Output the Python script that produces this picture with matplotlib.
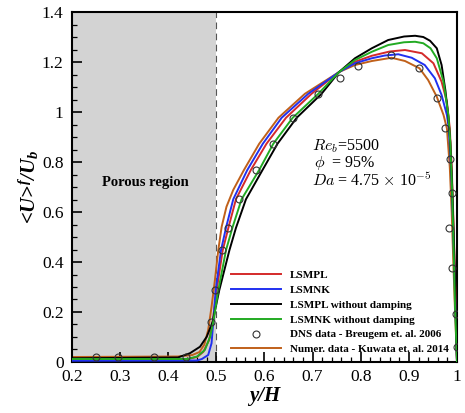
import matplotlib
matplotlib.use("Agg")
import matplotlib.pyplot as plt
from matplotlib.ticker import MultipleLocator, FormatStrFormatter

# values
x_lsmpl = [0.2, 0.44, 0.46, 0.473, 0.485, 0.4923, 0.5006, 0.5132, 0.525, 0.5407, 0.5713, 0.6041,
           0.6447, 0.6978, 0.755, 0.788, 0.823, 0.86, 0.892, 0.927, 0.951, 0.968, 0.979, 0.985, 0.989,
           0.992, 0.995, 0.998, 1.0]
y_lsmpl = [0.012, 0.012, 0.02, 0.041, 0.088, 0.161, 0.287, 0.447, 0.537, 0.651, 0.767, 0.873,
           0.977, 1.073, 1.16, 1.201, 1.225, 1.242, 1.248, 1.235, 1.195, 1.121, 1.041, 0.935, 0.78,
           0.6, 0.4, 0.18, 0.0]

x_lsmnk = [0.2, 0.46, 0.47, 0.483, 0.49, 0.4936, 0.4986, 0.5096, 0.52, 0.5351, 0.564, 0.5965,
           0.6357, 0.691, 0.755, 0.788, 0.823, 0.85, 0.878, 0.906, 0.933, 0.954, 0.968, 0.979, 0.983,
           0.988, 0.991, 0.994, 0.997, 1.0]
y_lsmnk = [0.005, 0.006, 0.012, 0.028, 0.075, 0.161, 0.287, 0.447, 0.537, 0.651, 0.767, 0.873,
           0.977, 1.073, 1.16, 1.195, 1.215, 1.226, 1.231, 1.217, 1.188, 1.135, 1.068, 0.988, 0.935,
           0.76, 0.6, 0.4, 0.2, 0.0]

x_nodamp_pl = [0.2, 0.42, 0.445, 0.466, 0.48, 0.4923, 0.506, 0.5271, 0.5408, 0.5615, 0.5956, 0.627,
               0.6669, 0.7186, 0.755, 0.788, 0.823, 0.857, 0.89, 0.913, 0.93, 0.944, 0.958, 0.968,
               0.976, 0.982, 0.986, 0.99, 0.994, 0.997, 1.0]
y_nodamp_pl = [0.015, 0.018, 0.035, 0.061, 0.101, 0.161, 0.287, 0.447, 0.537, 0.651, 0.767, 0.873,
               0.977, 1.073, 1.16, 1.215, 1.255, 1.288, 1.302, 1.305, 1.3, 1.285, 1.255, 1.188,
               1.085, 0.98, 0.88, 0.7, 0.45, 0.22, 0.0]

x_nodamp_nk = [0.2, 0.44, 0.46, 0.476, 0.487, 0.4936, 0.504, 0.52, 0.5333, 0.5524, 0.5886, 0.6183,
               0.6586, 0.7118, 0.755, 0.788, 0.823, 0.857, 0.89, 0.913, 0.93, 0.945, 0.958, 0.972,
               0.982, 0.986, 0.99, 0.993, 0.996, 1.0]
y_nodamp_nk = [0.012, 0.012, 0.022, 0.048, 0.101, 0.161, 0.287, 0.447, 0.537, 0.651, 0.767, 0.873,
               0.977, 1.073, 1.16, 1.208, 1.241, 1.268, 1.279, 1.281, 1.275, 1.255, 1.215, 1.121,
               0.988, 0.88, 0.68, 0.45, 0.22, 0.0]

x_kuwata = [0.2, 0.42, 0.45, 0.465, 0.475, 0.483, 0.49, 0.497, 0.504, 0.511, 0.521, 0.535, 0.557,
            0.589, 0.629, 0.684, 0.755, 0.788, 0.823, 0.864, 0.892, 0.922, 0.94, 0.958, 0.972,
            0.979, 0.985, 0.989, 0.992, 0.995, 0.998, 1.0]
y_kuwata = [0.02, 0.022, 0.028, 0.04, 0.07, 0.128, 0.221, 0.328, 0.448, 0.541, 0.621, 0.688, 0.767,
            0.873, 0.977, 1.073, 1.16, 1.188, 1.204, 1.217, 1.204, 1.175, 1.128, 1.061, 0.988,
            0.935, 0.78, 0.6, 0.42, 0.25, 0.1, 0.0]

x_dns = [0.25, 0.295, 0.371, 0.436, 0.489, 0.497, 0.511, 0.524, 0.548, 0.582, 0.618, 0.660, 0.711,
         0.756, 0.794, 0.863, 0.922, 0.958, 0.976, 0.985, 0.989, 0.983, 0.990, 0.997, 0.999]
y_dns = [0.02, 0.02, 0.02, 0.02, 0.161, 0.287, 0.447, 0.537, 0.651, 0.767, 0.873, 0.977, 1.073,
         1.137, 1.185, 1.228, 1.175, 1.057, 0.935, 0.811, 0.677, 0.535, 0.375, 0.19, 0.06]

plt.rcParams["font.family"] = ["Liberation Serif", "DejaVu Serif"]
plt.rcParams["mathtext.fontset"] = "custom"
plt.rcParams["mathtext.it"] = "Liberation Serif:italic:bold"
plt.rcParams["mathtext.rm"] = "Liberation Serif:bold"

fig = plt.figure(figsize=(4.65, 4.13), dpi=100)
ax = fig.add_axes([0.1548, 0.1235, 0.828, 0.8474])

ax.axvspan(0.2, 0.5, color="#d3d3d3", zorder=0, lw=0)
ax.axvline(0.5, color="#555555", ls=(0, (6, 4)), lw=0.8, zorder=1)

lw = 1.4
ax.plot(x_lsmpl, y_lsmpl, color="#d42a2a", lw=lw, label="LSMPL", zorder=3)
ax.plot(x_lsmnk, y_lsmnk, color="#2030f0", lw=lw, label="LSMNK", zorder=3)
ax.plot(x_nodamp_pl, y_nodamp_pl, color="black", lw=lw, label="LSMPL without damping", zorder=3)
ax.plot(x_nodamp_nk, y_nodamp_nk, color="#22aa22", lw=lw, label="LSMNK without damping", zorder=3)
ax.plot(x_dns, y_dns, ls="none", marker="o", mfc="none", mec="#333333", ms=5, mew=0.8,
        label="DNS data - Breugem et. al. 2006", zorder=4)
ax.plot(x_kuwata, y_kuwata, color="#c0601a", lw=lw, label="Numer. data - Kuwata et. al. 2014", zorder=2)

ax.set_xlim(0.2, 1.0)
ax.set_ylim(0, 1.4)
ax.xaxis.set_major_locator(MultipleLocator(0.1))
ax.xaxis.set_minor_locator(MultipleLocator(0.02))
ax.yaxis.set_major_locator(MultipleLocator(0.2))
ax.yaxis.set_minor_locator(MultipleLocator(0.05))
ax.xaxis.set_major_formatter(FormatStrFormatter("%g"))
ax.yaxis.set_major_formatter(FormatStrFormatter("%g"))
ax.tick_params(which="both", direction="in", top=False, right=False, width=1.2)
ax.tick_params(which="major", length=7, labelsize=12.5)
ax.tick_params(axis="x", which="major", pad=5)
ax.tick_params(axis="y", which="major", pad=6)
ax.tick_params(which="minor", length=3.5, width=0.9)
for s in ax.spines.values():
    s.set_linewidth(1.5)

ax.set_xlabel("y/H", fontsize=15, fontweight="bold", fontstyle="italic", labelpad=1)
ax.set_ylabel(r"<U>$^{f}$/U$_{b}$", fontsize=15, fontweight="bold", fontstyle="italic", labelpad=1)

ax.text(0.352, 0.72, "Porous region", fontsize=10.5, fontweight="bold", ha="center", va="center")
ax.text(0.698, 0.865, r"$Re_b$=5500", fontsize=11.5, math_fontfamily="cm", va="center")
ax.text(0.703, 0.795, r"$\phi$  = 95%", fontsize=11.5, math_fontfamily="cm", va="center")
ax.text(0.698, 0.725, r"$Da$ = 4.75 $\times$ 10$^{-5}$", fontsize=11.5, math_fontfamily="cm", va="center")

leg = ax.legend(loc="lower left", bbox_to_anchor=(0.393, 0.0), frameon=False,
                prop={"weight": "bold", "size": 8}, handlelength=4.5, handletextpad=0.8,
                labelspacing=0.45, borderpad=0.2)

fig.savefig("out.png", dpi=100)
